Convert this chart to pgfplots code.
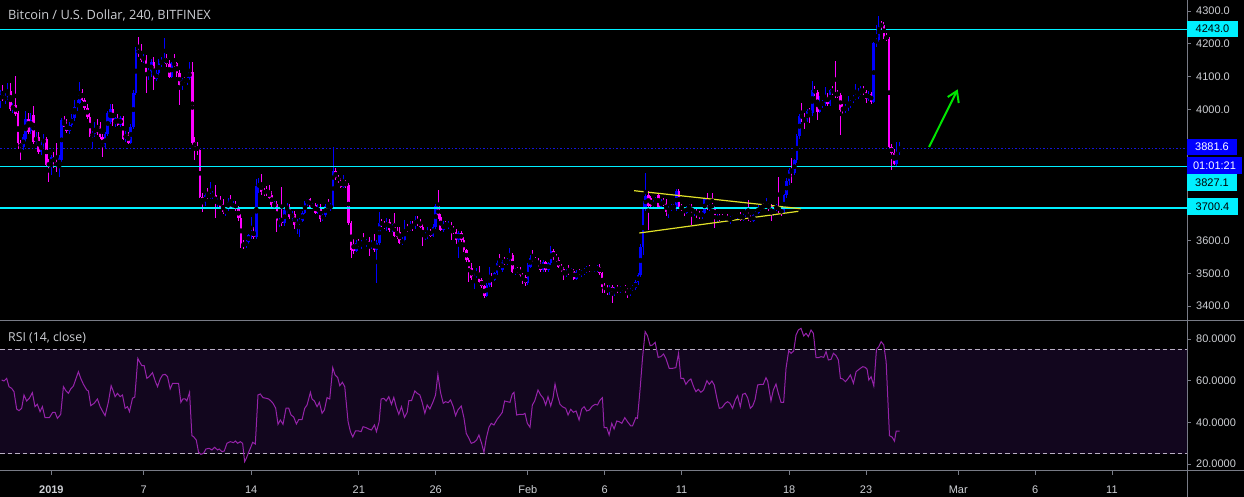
\documentclass[border=0pt]{standalone}
\usepackage{fontspec}
\setmainfont{Liberation Sans}
\newfontfamily\titlefont{Open Sans}
\usepackage{pgfplots}
\pgfplotsset{compat=1.18}
\usepackage{pgfplotstable}
\definecolor{upc}{RGB}{0,0,255}
\definecolor{dnc}{RGB}{255,0,255}
\definecolor{cyanl}{RGB}{0,240,255}
\definecolor{txt}{RGB}{205,207,212}
\definecolor{axl}{RGB}{120,123,134}
\definecolor{rsibg}{RGB}{18,6,30}
\definecolor{rsil}{RGB}{150,35,170}
\definecolor{dashc}{RGB}{185,175,195}
\definecolor{yel}{RGB}{225,225,40}
\definecolor{grn}{RGB}{0,230,0}
\definecolor{pline}{RGB}{20,20,220}

\pgfplotstableread{
i o h l c
-20 4030 4060 4005 4045
-19 4045 4075 4025 4030
-18 4030 4050 4015 4040
-17 4040 4080 4030 4055
-16 4056 4080 3995 4001
-15 4000 4020 3990 4013
-14 4013 4102 3980 3985
-13 3988 3995 3880 3896
-12 3896 3905 3845 3884
-11 3886 3925 3875 3917
-10 3910 3995 3900 3970
-9 3970 3990 3925 3932
-8 3935 3990 3925 3967
-7 3983 4010 3895 3901
-6 3901 3930 3890 3915
-5 3915 3930 3865 3871
-4 3871 3905 3860 3898
-3 3898 3925 3880 3910
-2 3910 3915 3825 3830
-1 3835 3850 3777 3830
0 3830 3860 3800 3855
1 3855 3870 3820 3840
2 3840 3896 3810 3825
3 3825 3860 3793 3855
4 3845 3975 3840 3967
5 3964 3980 3945 3947
6 3952 3970 3928 3934
7 3934 3960 3925 3952
8 3952 3985 3945 3975
9 3975 4030 3965 4006
10 4006 4030 3995 4020
11 4020 4084 4015 4054
12 4054 4062 4025 4030
13 4030 4035 3998 4003
14 4003 4015 3970 3978
15 3978 3990 3915 3919
16 3919 3935 3880 3925
17 3925 3960 3915 3942
18 3947 3970 3922 3927
19 3949 3960 3910 3915
20 3917 3925 3856 3884
21 3884 3930 3878 3925
22 3925 3995 3920 3988
23 3960 4015 3955 4000
24 4001 4016 3950 3957
25 3955 3978 3945 3974
26 3974 3985 3948 3952
27 3952 3980 3945 3974
28 3974 3980 3905 3911
29 3911 3935 3900 3922
30 3922 3930 3895 3898
31 3898 3955 3893 3947
32 3947 4060 3940 4050
33 4050 4190 4045 4181
34 4181 4222 4160 4170
35 4173 4200 4145 4150
36 4150 4170 4140 4156
37 4156 4165 4049 4110
38 4110 4125 4090 4115
39 4115 4155 4100 4145
40 4145 4160 4059 4092
41 4092 4120 4085 4110
42 4110 4155 4100 4147
43 4140 4160 4130 4145
44 4145 4217 4140 4156
45 4156 4170 4130 4137
46 4137 4150 4095 4100
47 4100 4145 4095 4140
48 4140 4170 4130 4135
49 4140 4145 4100 4110
50 4110 4120 4013 4074
51 4074 4095 4060 4089
52 4091 4100 4080 4084
53 4084 4100 4075 4095
54 4095 4145 4090 4115
55 4115 4145 3890 3896
56 3900 3915 3845 3886
57 3886 3900 3860 3876
58 3876 3880 3730 3734
59 3734 3745 3688 3713
60 3713 3745 3705 3739
61 3739 3760 3725 3732
62 3732 3779 3725 3738
63 3739 3750 3725 3740
64 3740 3769 3667 3715
65 3715 3730 3700 3722
66 3722 3735 3700 3703
67 3710 3725 3680 3687
68 3687 3700 3675 3695
69 3695 3730 3690 3718
70 3718 3739 3700 3703
71 3703 3720 3695 3712
72 3712 3720 3690 3698
73 3698 3705 3660 3670
74 3670 3680 3576 3590
75 3590 3600 3575 3585
76 3585 3602 3578 3596
77 3596 3620 3590 3617
78 3617 3672 3605 3627
79 3627 3640 3605 3611
80 3611 3786 3605 3766
81 3766 3790 3745 3772
82 3772 3803 3740 3749
83 3749 3760 3735 3745
84 3752 3765 3735 3748
85 3749 3770 3725 3729
86 3739 3750 3700 3708
87 3708 3720 3695 3712
88 3711 3720 3627 3654
89 3654 3670 3640 3660
90 3674 3762 3645 3652
91 3652 3700 3645 3693
92 3693 3715 3685 3700
93 3700 3712 3665 3672
94 3672 3690 3660 3680
95 3680 3690 3634 3647
96 3647 3665 3620 3655
97 3655 3670 3611 3660
98 3660 3690 3655 3685
99 3685 3720 3680 3715
100 3715 3728 3705 3725
101 3725 3730 3700 3703
102 3703 3715 3695 3708
103 3708 3715 3680 3685
104 3685 3710 3680 3703
105 3703 3710 3657 3664
106 3664 3685 3658 3678
107 3678 3710 3672 3705
108 3705 3728 3695 3700
109 3700 3715 3690 3706
110 3706 3884 3700 3811
111 3811 3820 3785 3789
112 3795 3800 3775 3780
113 3780 3790 3760 3764
114 3764 3800 3760 3778
115 3778 3783 3760 3769
116 3769 3775 3648 3652
117 3652 3660 3545 3571
118 3590 3605 3560 3569
119 3569 3600 3565 3591
120 3591 3605 3580 3585
121 3585 3600 3575 3596
122 3596 3622 3585 3590
123 3590 3605 3580 3598
124 3598 3610 3552 3581
125 3581 3600 3575 3590
126 3593 3620 3565 3571
127 3571 3600 3469 3591
128 3591 3688 3585 3654
129 3654 3665 3640 3648
130 3648 3660 3635 3640
131 3640 3670 3630 3657
132 3657 3665 3625 3632
133 3632 3650 3625 3645
134 3652 3683 3610 3613
135 3627 3640 3605 3611
136 3627 3640 3590 3593
137 3593 3610 3585 3601
138 3601 3662 3595 3637
139 3637 3650 3625 3632
140 3632 3660 3628 3642
141 3642 3660 3630 3640
142 3640 3675 3635 3662
143 3662 3675 3645 3652
144 3657 3665 3638 3642
145 3642 3650 3583 3610
146 3610 3625 3600 3620
147 3620 3640 3605 3629
148 3629 3635 3610 3614
149 3614 3650 3610 3642
150 3642 3710 3635 3705
151 3705 3754 3665 3671
152 3671 3680 3628 3632
153 3632 3660 3625 3650
154 3652 3658 3640 3645
155 3645 3660 3635 3648
156 3648 3655 3601 3632
157 3632 3645 3620 3627
158 3627 3635 3590 3601
159 3601 3630 3545 3624
160 3624 3630 3595 3601
161 3601 3610 3565 3570
162 3570 3575 3535 3540
163 3540 3545 3474 3515
164 3515 3530 3478 3484
165 3484 3500 3451 3490
166 3490 3515 3485 3505
167 3505 3522 3470 3474
168 3479 3485 3455 3460
169 3460 3465 3425 3432
170 3432 3470 3428 3464
171 3464 3520 3458 3490
172 3490 3500 3459 3480
173 3480 3505 3475 3500
174 3500 3540 3495 3530
175 3530 3559 3520 3528
176 3510 3540 3505 3535
177 3537 3550 3525 3532
178 3532 3545 3525 3540
179 3540 3576 3535 3556
180 3556 3562 3500 3505
181 3505 3515 3495 3510
182 3510 3520 3500 3507
183 3510 3520 3490 3495
184 3495 3500 3467 3484
185 3489 3495 3462 3469
186 3469 3530 3465 3525
187 3520 3555 3515 3545
188 3548 3571 3535 3540
189 3540 3550 3530 3535
190 3535 3545 3520 3528
191 3528 3540 3505 3510
192 3510 3540 3505 3533
193 3533 3538 3505 3510
194 3510 3535 3505 3530
195 3530 3583 3525 3569
196 3569 3575 3540 3545
197 3545 3560 3535 3540
198 3540 3548 3515 3520
199 3520 3528 3505 3510
200 3512 3520 3480 3495
201 3495 3512 3488 3508
202 3508 3525 3495 3505
203 3505 3515 3500 3508
204 3508 3512 3478 3482
205 3482 3510 3478 3505
206 3505 3512 3495 3500
207 3500 3510 3490 3503
208 3503 3515 3495 3508
209 3508 3522 3500 3515
210 3515 3525 3505 3510
211 3510 3520 3505 3512
212 3512 3520 3505 3515
213 3510 3525 3505 3520
214 3520 3528 3495 3500
215 3500 3505 3440 3459
216 3461 3470 3440 3450
217 3450 3465 3435 3442
218 3442 3465 3435 3458
219 3458 3465 3410 3441
220 3441 3458 3432 3452
221 3452 3465 3440 3449
222 3449 3460 3440 3455
223 3455 3462 3445 3459
224 3459 3465 3440 3450
225 3450 3455 3423 3440
226 3440 3455 3430 3450
227 3450 3465 3445 3460
228 3455 3478 3450 3472
229 3472 3500 3465 3495
230 3495 3590 3490 3581
231 3581 3720 3555 3700
232 3700 3805 3690 3735
233 3740 3750 3632 3705
234 3729 3735 3700 3705
235 3705 3722 3700 3718
236 3718 3732 3710 3729
237 3739 3745 3700 3703
238 3703 3725 3698 3720
239 3722 3730 3705 3708
240 3718 3725 3675 3688
241 3688 3705 3668 3700
242 3700 3710 3690 3702
243 3702 3712 3695 3700
244 3695 3756 3690 3751
245 3751 3756 3695 3698
246 3701 3710 3690 3698
247 3698 3703 3675 3685
248 3685 3705 3680 3703
249 3703 3712 3695 3702
250 3703 3710 3647 3685
251 3685 3700 3675 3690
252 3690 3698 3670 3675
253 3682 3690 3665 3674
254 3674 3690 3665 3685
255 3685 3731 3680 3725
256 3729 3746 3692 3698
257 3698 3712 3690 3708
258 3708 3744 3698 3701
259 3701 3705 3637 3673
260 3666 3680 3655 3672
261 3672 3680 3660 3666
262 3670 3680 3662 3668
263 3668 3676 3660 3672
264 3672 3680 3658 3663
265 3663 3675 3650 3668
266 3668 3678 3660 3672
267 3672 3682 3665 3675
268 3675 3685 3665 3678
269 3678 3688 3660 3663
270 3663 3683 3658 3678
271 3678 3698 3672 3688
272 3688 3723 3660 3664
273 3670 3678 3655 3660
274 3660 3682 3655 3678
275 3678 3690 3672 3685
276 3685 3708 3680 3701
277 3695 3710 3690 3704
278 3704 3715 3698 3702
279 3702 3728 3698 3709
280 3709 3715 3690 3705
281 3705 3710 3660 3678
282 3678 3700 3675 3698
283 3698 3710 3690 3705
284 3705 3795 3685 3688
285 3695 3702 3675 3683
286 3683 3742 3680 3739
287 3739 3790 3730 3780
288 3780 3820 3770 3815
289 3815 3851 3776 3805
290 3805 3850 3800 3845
291 3845 3925 3835 3919
292 3919 3985 3910 3980
293 3980 4020 3960 3975
294 3975 3990 3940 3965
295 3965 4000 3960 3995
296 3998 4005 3959 3988
297 3988 4087 3980 4059
298 4059 4071 4040 4051
299 4054 4060 3967 3993
300 3993 4040 3990 4018
301 4015 4030 4005 4020
302 4020 4067 4010 4039
303 4041 4050 4010 4016
304 4016 4062 4010 4059
305 4059 4070 4045 4050
306 4050 4147 4035 4043
307 4051 4060 4035 4039
308 4044 4050 3922 3998
309 4008 4015 3985 3996
310 3996 4015 3990 4008
311 4000 4040 3995 4023
312 4015 4030 4005 4025
313 4025 4045 4020 4037
314 4034 4077 4030 4044
315 4039 4065 4032 4050
316 4050 4070 4045 4059
317 4061 4070 4045 4049
318 4054 4060 4020 4033
319 4033 4055 4025 4047
320 4047 4052 4016 4023
321 4023 4205 4020 4201
322 4201 4257 4190 4213
323 4213 4285 4205 4260
324 4260 4270 4245 4252
325 4257 4265 4215 4222
326 4222 4232 4208 4215
327 4215 4220 3882 3886
328 3886 3895 3815 3866
329 3866 3880 3830 3833
330 3833 3901 3828 3870
331 3870 3900 3862 3881.6
}\candles

\pgfplotstableread{
i r
-19.42 60.32
-18.51 59.84
-17.46 61.12
-16.55 57.12
-15.51 56.32
-14.60 54.72
-13.55 46.40
-12.64 45.60
-11.60 46.72
-10.69 53.12
-9.65 50.24
-8.60 51.52
-7.43 54.24
-6.39 47.52
-5.48 48.64
-4.43 45.12
-3.52 47.52
-2.48 42.24
-0.79 42.24
0.52 44.80
1.43 44.80
2.34 41.92
3.64 43.84
4.69 57.12
5.73 55.04
6.64 53.92
7.55 56.00
8.60 57.44
9.64 61.12
10.55 64.32
11.46 61.12
12.51 58.24
13.81 55.52
14.46 55.04
15.37 48.00
16.67 49.12
17.98 51.20
19.02 47.52
19.93 45.44
20.97 43.20
22.28 49.92
23.32 57.60
24.23 54.72
24.88 52.32
25.80 53.92
26.84 52.32
27.75 53.12
28.79 46.72
29.70 47.52
30.49 45.12
31.66 51.52
32.57 52.16
33.74 70.72
34.40 69.12
35.31 67.20
36.22 67.20
37.26 61.12
38.17 61.92
39.48 63.84
40.52 59.84
41.43 57.12
42.47 60.80
43.39 62.72
44.43 63.04
45.34 61.92
46.38 56.00
47.30 58.72
48.34 58.72
49.64 58.72
50.55 49.60
51.33 51.20
52.25 51.20
52.90 50.24
53.94 54.40
54.85 33.60
55.50 33.12
56.55 31.52
57.46 25.60
58.37 24.64
59.41 25.12
60.33 27.20
61.63 27.52
62.67 26.72
63.71 28.00
64.89 26.72
65.54 27.20
66.58 25.92
67.49 26.24
68.53 29.92
69.84 30.72
71.14 30.24
71.79 31.04
72.70 29.92
73.75 30.72
74.66 29.92
75.44 21.12
76.09 22.72
77.00 25.60
77.92 28.32
78.57 30.40
79.61 29.60
80.65 53.12
81.56 53.60
82.61 51.84
83.91 51.52
84.82 51.20
85.73 50.24
86.52 49.12
87.56 46.80
88.47 39.04
89.38 41.12
90.42 39.04
91.60 46.80
92.64 46.80
93.55 43.52
94.59 42.56
95.64 39.20
96.55 41.28
97.85 41.28
98.89 46.72
99.81 48.32
101.11 54.40
101.75 51.20
102.66 50.24
103.71 47.52
104.62 49.60
105.66 44.32
106.57 45.92
107.61 51.84
108.66 51.20
109.83 66.24
110.74 62.72
111.78 61.44
112.57 57.60
113.61 59.20
114.52 57.12
115.82 40.32
116.74 35.52
117.65 32.96
118.69 35.84
119.99 35.84
120.90 35.52
121.69 37.92
122.86 37.44
123.90 36.80
124.94 36.32
126.12 38.72
126.90 35.52
127.94 40.32
128.72 51.20
129.77 51.52
130.68 50.24
131.72 52.32
132.76 48.64
133.67 52.00
134.59 47.52
135.63 43.84
136.67 47.52
137.84 42.40
138.89 44.80
139.54 50.40
140.58 50.40
141.88 55.04
142.80 53.92
143.84 53.12
144.75 49.60
145.79 44.32
146.70 48.32
147.75 46.40
148.92 49.60
149.96 53.12
150.87 63.04
151.92 54.24
152.96 49.12
153.87 49.92
154.91 49.44
155.83 50.72
156.87 47.52
157.78 43.20
158.69 45.92
159.99 47.84
161.04 42.24
161.95 34.72
162.99 32.32
163.90 29.92
164.95 30.40
165.99 31.52
166.90 33.92
167.94 29.92
168.86 25.60
169.77 32.32
170.81 37.60
171.72 39.52
172.76 38.72
174.07 41.60
175.11 43.20
176.02 44.80
176.93 50.24
177.98 49.92
179.02 49.60
179.93 53.60
180.58 54.40
181.62 43.52
182.80 43.84
184.23 43.84
184.88 44.32
185.79 39.52
186.84 37.60
187.75 48.32
188.66 50.24
189.96 55.52
191.01 53.12
192.05 51.52
192.96 48.32
193.87 52.32
194.92 47.84
195.83 51.84
196.61 58.40
197.52 53.12
198.56 48.64
199.48 47.52
200.78 46.72
201.69 43.52
202.73 46.24
203.78 44.80
204.82 45.44
205.99 41.12
207.03 46.40
207.95 47.52
208.99 45.44
210.03 45.92
211.07 47.68
212.24 48.64
213.16 48.32
214.20 50.72
215.11 51.84
215.76 37.44
216.81 37.44
217.72 33.92
218.76 39.52
219.67 36.80
220.71 40.64
221.63 40.32
222.67 39.52
223.84 42.24
224.88 40.32
226.19 38.24
226.84 38.24
228.14 42.24
228.79 41.92
229.84 56.32
230.75 70.72
231.79 83.52
232.70 81.60
233.74 76.80
234.66 77.12
235.70 78.40
236.87 71.20
237.91 71.52
238.96 72.80
239.87 70.72
241.17 65.92
242.47 65.92
243.78 66.24
244.82 73.12
245.73 61.12
246.77 61.12
247.69 58.24
248.73 60.00
249.64 60.80
250.68 57.12
251.60 54.72
252.51 55.84
253.55 54.40
254.59 55.52
255.90 60.00
256.81 58.24
257.85 59.84
258.76 57.92
259.80 51.52
260.72 46.72
261.76 47.04
263.06 49.12
263.97 49.92
264.89 49.12
265.93 46.72
266.97 50.72
267.88 52.80
268.93 47.52
269.84 53.44
270.88 53.92
271.79 51.84
272.83 46.72
273.75 47.84
274.66 50.72
275.70 57.92
276.74 58.24
277.92 58.24
278.96 61.44
279.61 59.84
280.91 50.24
281.83 55.52
282.87 58.40
283.78 53.92
284.82 49.60
285.86 49.60
286.78 65.92
287.82 74.40
288.73 73.12
289.77 74.24
290.69 81.92
291.60 84.32
292.64 85.12
293.68 81.44
294.59 82.72
295.51 81.12
296.55 84.32
297.46 82.72
298.50 71.04
299.42 71.04
300.46 71.52
301.50 71.20
302.41 73.92
303.32 69.92
304.37 70.24
305.28 73.12
306.32 72.00
307.23 69.92
308.02 61.12
308.93 60.80
309.97 59.52
310.88 60.80
311.92 62.72
313.10 58.72
314.14 64.32
315.44 65.60
316.75 66.72
317.66 66.40
318.44 65.44
319.09 60.32
320.00 61.92
321.05 57.44
322.09 75.04
323.00 76.32
323.91 78.72
324.95 77.12
325.87 69.04
327.17 33.60
328.21 32.88
329.12 30.96
329.78 35.76
331.08 35.76
}\rsi

\pgfplotsset{
  tvaxis/.style={scale only axis, axis line style={draw=none},
    xmin=-20.06, xmax=443.3, tick align=outside, major tick length=4pt,
    tick style={axl, line width=0.8pt},
    ytick pos=right, yticklabel pos=right,
    yticklabel style={font=\fontsize{11}{13}\selectfont, text=txt, anchor=west, inner sep=0pt, xshift=5pt},
    /pgf/number format/assume math mode=true, scaled y ticks=false, clip=false},
  wick/.style={only marks, mark=none, forget plot, error bars/.cd, y dir=both, y explicit, error mark=none, error bar style={line width=1pt, draw=#1}},
  body/.style={only marks, mark=none, forget plot, error bars/.cd, y dir=both, y explicit, error mark=none, error bar style={line width=2.6pt, draw=#1}},
}

\begin{document}
\begin{tikzpicture}[x=1pt,y=1pt]
\fill[black] (0,0) rectangle (1244,497);

% price panel
\begin{axis}[tvaxis, at={(0pt,176.3pt)}, anchor=south west, width=1187pt, height=320.7pt,
  ymin=3355.2, ymax=4333.6, xtick=\empty,
  ytick={3400,3500,3600,3700,3800,3900,4000,4100,4200,4300},
  yticklabels={3400.0,3500.0,3600.0,,,,4000.0,4100.0,4200.0,4300.0}]
\addplot[pline, dash pattern=on 1.5pt off 2pt, line width=0.8pt] coordinates {(-20.06,3881.6) (443.3,3881.6)};
\addplot[restrict expr to domain={\thisrow{c}-\thisrow{o}}{0:5000}, wick=upc]
  table[x=i, y expr={(\thisrow{h}+\thisrow{l})/2}, y error expr={(\thisrow{h}-\thisrow{l})/2}] {\candles};
\addplot[restrict expr to domain={\thisrow{c}-\thisrow{o}}{-5000:0}, wick=dnc]
  table[x=i, y expr={(\thisrow{h}+\thisrow{l})/2}, y error expr={(\thisrow{h}-\thisrow{l})/2}] {\candles};
\addplot[restrict expr to domain={\thisrow{c}-\thisrow{o}}{0:5000}, body=upc]
  table[x=i, y expr={(\thisrow{o}+\thisrow{c})/2}, y error expr={max(abs(\thisrow{c}-\thisrow{o})/2,1.6)}] {\candles};
\addplot[restrict expr to domain={\thisrow{c}-\thisrow{o}}{-5000:0}, body=dnc]
  table[x=i, y expr={(\thisrow{o}+\thisrow{c})/2}, y error expr={max(abs(\thisrow{c}-\thisrow{o})/2,1.6)}] {\candles};
\addplot[cyanl, line width=1pt] coordinates {(-20.06,4243) (443.3,4243)};
\addplot[cyanl, line width=1pt] coordinates {(-20.06,3827.1) (443.3,3827.1)};
\addplot[cyanl, line width=2pt] coordinates {(-20.06,3700.4) (443.3,3700.4)};
% triangle
\addplot[yel, line width=1.2pt] coordinates {(227.5,3751.8) (292.5,3696.8)};
\addplot[yel, line width=1.2pt] coordinates {(229.5,3622.7) (291.6,3688.9)};
% arrow
\addplot[grn, line width=2pt] coordinates {(342.6,3885.1) (353.5,4055.9)};
\addplot[grn, line width=2pt] coordinates {(349.9,4037.6) (353.5,4055.9) (354.2,4019.3)};
\end{axis}

% RSI panel
\begin{axis}[tvaxis, at={(0pt,26pt)}, anchor=south west, width=1187pt, height=150.3pt,
  ymin=16.64, ymax=88.78, ytick={20,40,60,80},
  yticklabel style={/pgf/number format/fixed, /pgf/number format/fixed zerofill, /pgf/number format/precision=4},
  xtick={0,36,78,120,150,186,216,246,288,318,354,384,414},
  xticklabels={\textbf{2019},7,14,21,26,Feb,6,11,18,23,Mar,6,11},
  xtick pos=left,
  xticklabel style={font=\fontsize{11}{13}\selectfont, text=txt, anchor=north, inner sep=0pt, yshift=-10.6pt}]
\addplot[fill=rsibg, draw=none] coordinates {(-20.06,25) (443.3,25) (443.3,75) (-20.06,75)} -- cycle;
\addplot[dashc, line width=0.9pt, dash pattern=on 4.5pt off 3pt] coordinates {(-20.06,75) (443.3,75)};
\addplot[dashc, line width=0.9pt, dash pattern=on 4.5pt off 3pt] coordinates {(-20.06,25) (443.3,25)};
\addplot[rsil, line width=1pt, mark=none] table[x=i, y=r] {\rsi};
\end{axis}

% frame lines
\draw[axl, line width=1pt] (0,176.3) -- (1244,176.3);
\draw[axl, line width=1pt] (0,26) -- (1244,26);
\draw[axl, line width=1pt] (1187.5,0) -- (1187.5,497);

% price labels
\tikzset{plab/.style={inner sep=0pt, font=\fontsize{11}{13}\selectfont}}
\fill[cyanl] (1187,460) rectangle (1238,476);
\node[plab, text=black] at (1212.5,468) {4243.0};
\fill[upc] (1187,342) rectangle (1237,358);
\node[plab, text=white] at (1212,350) {3881.6};
\fill[upc] (1187,323) rectangle (1242,340);
\node[plab, text=white] at (1214.5,331.5) {01:01:21};
\fill[cyanl] (1187,306) rectangle (1237,323);
\node[plab, text=black] at (1212,314.5) {3827.1};
\fill[cyanl] (1187,282) rectangle (1238,299);
\node[plab, text=black] at (1212.5,290.5) {3700.4};

% titles
\node[anchor=west, inner sep=0pt, text=txt, font=\titlefont\fontsize{12.8}{15}\selectfont] at (8,482) {Bitcoin / U.S. Dollar, 240, BITFINEX};
\node[anchor=west, inner sep=0pt, text=txt, font=\titlefont\fontsize{12.3}{15}\selectfont] at (8,159.5) {RSI (14, close)};

\pgfresetboundingbox
\useasboundingbox (0,0) rectangle (1244,497);
\end{tikzpicture}
\end{document}
